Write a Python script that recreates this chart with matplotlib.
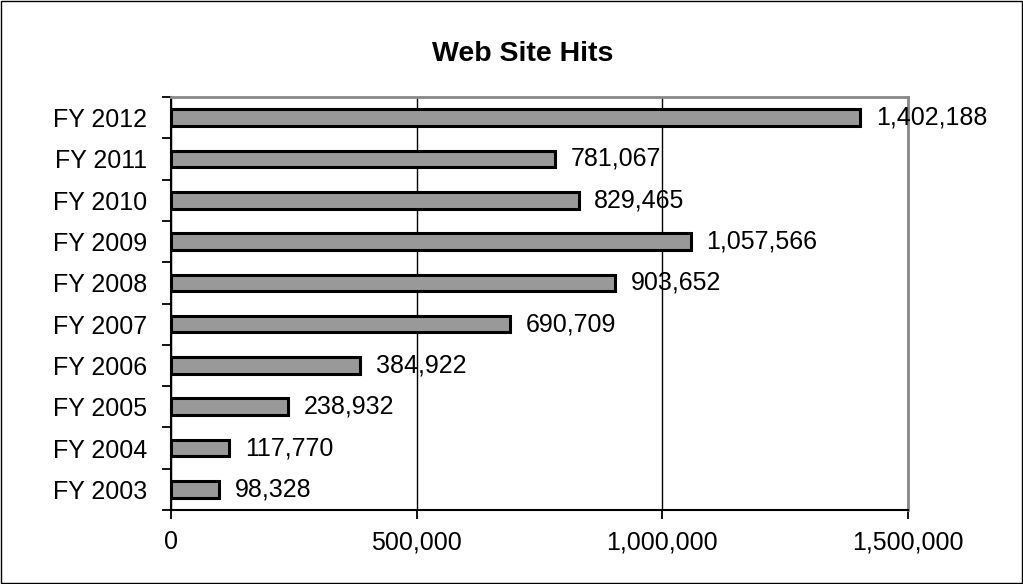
import matplotlib.pyplot as plt
from matplotlib.patches import Rectangle
from matplotlib.ticker import FuncFormatter
import numpy as np

plt.rcParams['font.family'] = ['Liberation Sans', 'DejaVu Sans']

years = ["FY 2003", "FY 2004", "FY 2005", "FY 2006", "FY 2007",
         "FY 2008", "FY 2009", "FY 2010", "FY 2011", "FY 2012"]
hits = [98328, 117770, 238932, 384922, 690709,
        903652, 1057566, 829465, 781067, 1402188]

fig = plt.figure(figsize=(10.23, 5.84), dpi=100)
ax = fig.add_axes([0.1672, 0.1267, 0.7204, 0.7072])

y = np.arange(len(years))
ax.barh(y, hits, height=0.40, color="#999999", edgecolor="black", linewidth=2.2, zorder=3)

for yi, v in zip(y, hits):
    ax.text(v + 32000, yi, f"{v:,}", va="center", ha="left", fontsize=18, zorder=4)

ax.set_xlim(0, 1500000)
ax.set_ylim(-0.5, len(years) - 0.5)
ax.set_xticks([0, 500000, 1000000, 1500000])
ax.xaxis.set_major_formatter(FuncFormatter(lambda v, p: f"{int(v):,}"))
ax.xaxis.grid(True, color="black", linewidth=1, zorder=0)

ax.set_yticks(y)
ax.set_yticklabels(years)
ax.set_yticks(np.arange(-0.5, len(years), 1.0), minor=True)
ax.tick_params(axis="y", which="major", length=0, pad=17, labelsize=18)
ax.tick_params(axis="y", which="minor", length=6.5, width=1.3, color="black", direction="out")
ax.tick_params(axis="x", length=6.5, width=1.3, direction="out", pad=8, labelsize=18)

ax.spines["left"].set_linewidth(1.5)
ax.spines["bottom"].set_linewidth(1.5)
ax.spines["top"].set_color("#888888")
ax.spines["right"].set_color("#888888")
ax.spines["top"].set_linewidth(2)
ax.spines["right"].set_linewidth(2)

fig.text(0.511, 0.908, "Web Site Hits", ha="center", va="center", fontsize=20.5, fontweight="bold")

fig.patches.append(Rectangle((0.001, 0.002), 0.998, 0.996, transform=fig.transFigure,
                             fill=False, edgecolor="black", linewidth=1))

fig.savefig("out.png", dpi=100, facecolor="white")
